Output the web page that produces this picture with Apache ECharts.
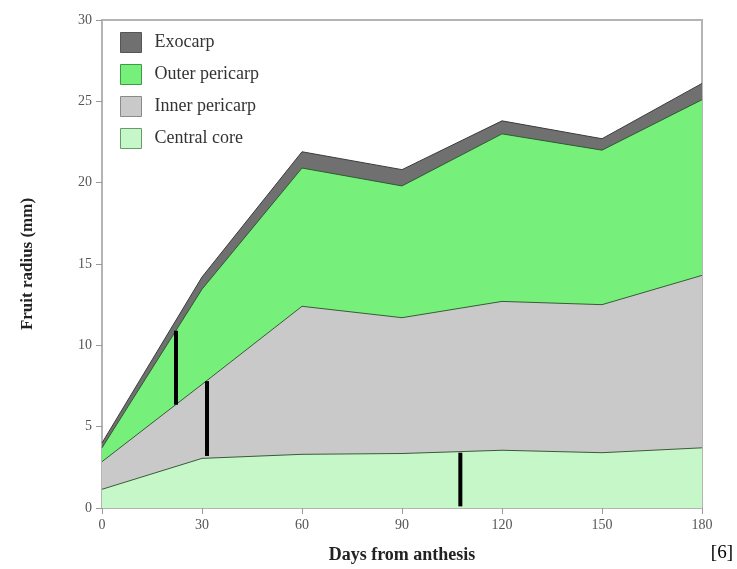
<!DOCTYPE html>
<html>
<head>
<meta charset="utf-8">
<script src="https://cdn.jsdelivr.net/npm/echarts@6/dist/echarts.min.js"></script>
<style>
html,body{margin:0;padding:0;background:#fff;}
#chart{width:737px;height:569px;}
</style>
</head>
<body>
<div id="chart"></div>
<script>
// Data
var days = [0, 30, 60, 90, 120, 150, 180];
var exocarpTop = [4.0, 14.2, 21.9, 20.8, 23.8, 22.7, 26.1];
var outerPericarpTop = [3.7, 13.45, 20.9, 19.8, 23.0, 22.0, 25.1];
var innerPericarpTop = [2.85, 7.6, 12.4, 11.7, 12.7, 12.5, 14.3];
var centralCoreTop = [1.15, 3.05, 3.3, 3.35, 3.55, 3.4, 3.7];
var layerNames = ['Exocarp', 'Outer pericarp', 'Inner pericarp', 'Central core'];
// Black vertical sampling bars
var barDays = [22.2, 31.5, 107.5];
var barLow = [6.35, 3.2, 0.1];
var barHigh = [10.9, 7.8, 3.4];
var yTicks = [0, 5, 10, 15, 20, 25, 30];
var xTicks = [0, 30, 60, 90, 120, 150, 180];

var fills = ['#707070', '#76f07a', '#c9c9c9', '#c6f7c8'];
var edges = ['#3c3c3c', '#2f5a32', '#3a5a3a', '#3a5a3a'];
var legendBorders = ['#555555', '#3f9a45', '#8a8a8a', '#6a9a6c'];
var tops = [exocarpTop, outerPericarpTop, innerPericarpTop, centralCoreTop];

function pairs(ys) {
  return days.map(function (d, i) { return [d, ys[i]]; });
}

var series = tops.map(function (ys, i) {
  return {
    name: layerNames[i],
    type: 'line',
    data: pairs(ys),
    symbol: 'none',
    silent: true,
    z: 2 + i,
    itemStyle: { color: fills[i] },
    lineStyle: { color: edges[i], width: 1 },
    areaStyle: { color: fills[i], opacity: 1 }
  };
});

barDays.forEach(function (d, i) {
  series.push({
    name: 'bar' + i,
    type: 'line',
    data: [[d, barLow[i]], [d, barHigh[i]]],
    symbol: 'none',
    silent: true,
    z: 10,
    lineStyle: { color: '#000', width: 4, cap: 'butt' }
  });
});

var chart = echarts.init(document.getElementById('chart'), null, { renderer: 'canvas' });
chart.setOption({
  animation: false,
  backgroundColor: '#fff',
  grid: {
    left: 102, right: 35, top: 20, bottom: 61,
    show: true, borderColor: '#b4b4b4', borderWidth: 2, backgroundColor: 'transparent'
  },
  legend: {
    orient: 'vertical',
    left: 120, top: 32,
    padding: 0,
    itemWidth: 21, itemHeight: 20, itemGap: 11,
    icon: 'rect',
    selectedMode: false,
    textStyle: { fontFamily: 'Liberation Serif', fontSize: 18, color: '#333', padding: [0, 0, 0, 8] },
    data: layerNames.map(function (n, i) {
      return { name: n, itemStyle: { color: fills[i], borderColor: legendBorders[i], borderWidth: 1 } };
    })
  },
  xAxis: {
    type: 'value',
    min: xTicks[0], max: xTicks[xTicks.length - 1], interval: 30,
    name: 'Days from anthesis',
    nameLocation: 'middle', nameGap: 38,
    nameTextStyle: { fontFamily: 'Liberation Serif', fontSize: 18, fontWeight: 'bold', color: '#222' },
    axisLine: { lineStyle: { color: '#b4b4b4', width: 2 } },
    axisTick: { show: true, length: 6, lineStyle: { color: '#999' } },
    axisLabel: { fontFamily: 'Liberation Serif', fontSize: 14, color: '#555', margin: 10 },
    splitLine: { show: false }
  },
  yAxis: {
    type: 'value',
    min: yTicks[0], max: yTicks[yTicks.length - 1], interval: 5,
    name: 'Fruit radius (mm)',
    nameLocation: 'middle', nameGap: 66, nameRotate: 90,
    nameTextStyle: { fontFamily: 'Liberation Serif', fontSize: 17, fontWeight: 'bold', color: '#222' },
    axisLine: { show: true, lineStyle: { color: '#b4b4b4', width: 2 } },
    axisTick: { show: true, length: 6, lineStyle: { color: '#999' } },
    axisLabel: { fontFamily: 'Liberation Serif', fontSize: 14, color: '#555', margin: 10 },
    splitLine: { show: false }
  },
  graphic: [{
    type: 'text',
    right: 4, top: 544,
    style: { text: '[6]', fontFamily: 'Liberation Serif', fontSize: 19, fill: '#000' }
  }],
  series: series
});
</script>
</body>
</html>
